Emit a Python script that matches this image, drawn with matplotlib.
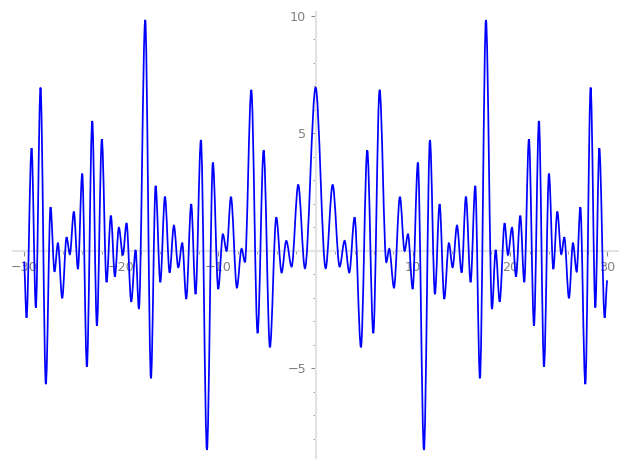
import matplotlib
matplotlib.use('Agg')
import matplotlib.pyplot as plt
from matplotlib.path import Path
from matplotlib.patches import PathPatch
from matplotlib.ticker import FixedLocator, FixedFormatter, MultipleLocator

# Turning points of the curve (x, y), left to right
x_pts = [-30.0, -29.74, -29.22, -28.78, -28.30, -27.75, -27.27, -26.86, -26.51, -26.07,
         -25.62, -25.28, -24.87, -24.45, -24.01, -23.53, -22.98, -22.50, -21.99, -21.51,
         -21.06, -20.65, -20.24, -19.83, -19.45, -18.97, -18.52, -18.18, -17.53, -16.94,
         -16.46, -15.98, -15.50, -15.02, -14.58, -14.13, -13.72, -13.31, -12.80, -12.35,
         -11.80, -11.18, -10.57, -10.02, -9.54, -9.16, -8.71, -8.10, -7.62, -7.27,
         -6.62, -5.97, -5.35, -4.70, -4.05, -3.50, -3.02, -2.47, -1.79, -1.10,
         0.00,
         1.03, 1.75, 2.47, 2.98, 3.46, 4.01, 4.66, 5.31, 5.93, 6.58,
         7.27, 7.57, 8.06, 8.67, 9.15, 9.50, 9.98, 10.52, 11.14, 11.76,
         12.27, 12.75, 13.23, 13.71, 14.09, 14.54, 15.02, 15.46, 15.94, 16.42,
         16.90, 17.52, 18.14, 18.52, 18.93, 19.44, 19.78, 20.20, 20.61, 21.05,
         21.46, 21.94, 22.46, 22.97, 23.49, 24.00, 24.45, 24.86, 25.27, 25.58,
         26.06, 26.47, 26.85, 27.23, 27.74, 28.29, 28.77, 29.18, 29.73, 30.0]
y_pts = [-0.45, -2.84, 4.37, -2.41, 6.95, -5.67, 1.86, -0.88, 0.33, -2.01,
         0.58, -0.14, 1.67, -0.77, 3.29, -4.92, 5.53, -3.18, 4.75, -1.33,
         1.50, -1.09, 0.99, -0.17, 1.18, -2.16, 0.04, -2.47, 9.83, -5.42,
         2.77, -1.33, 2.31, -0.92, 1.08, -0.70, 0.33, -2.04, 1.99, -1.84,
         4.72, -8.47, 3.76, -1.62, 0.71, 0.00, 2.30, -1.56, 0.09, -0.48,
         6.85, -3.50, 4.28, -4.10, 1.43, -0.92, 0.43, -0.67, 2.81, -0.74,
         6.95,
         -0.74, 2.81, -0.67, 0.43, -0.92, 1.43, -4.10, 4.28, -3.50, 6.85,
         -0.48, 0.09, -1.56, 2.30, 0.00, 0.71, -1.62, 3.76, -8.47, 4.72,
         -1.84, 1.99, -2.04, 0.33, -0.70, 1.08, -0.92, 2.31, -1.33, 2.77,
         -5.42, 9.83, -2.47, 0.04, -2.16, 1.18, -0.17, 0.99, -1.09, 1.50,
         -1.33, 4.75, -3.18, 5.53, -4.92, 3.29, -0.77, 1.67, -0.14, 0.58,
         -2.01, 0.33, -0.88, 1.86, -5.67, 6.95, -2.41, 4.37, -2.84, -1.25]

x_ticks = [-30, -20, -10, 0, 10, 20, 30]
x_labels = ['\u221230', '\u221220', '\u221210', '', '10', '20', '30']
y_ticks = [-5, 0, 5, 10]
y_labels = ['\u22125', '', '5', '10']

fig = plt.figure(figsize=(6.27, 4.69), dpi=100)
ax = fig.add_axes([0.0212, 0.0235, 0.9644, 0.9516])

# smooth curve through the turning points (flat tangent at each one)
verts = [(x_pts[0], y_pts[0])]
codes = [Path.MOVETO]
for i in range(len(x_pts) - 1):
    d = x_pts[i + 1] - x_pts[i]
    verts += [(x_pts[i] + d / 3, y_pts[i]), (x_pts[i + 1] - d / 3, y_pts[i + 1]),
              (x_pts[i + 1], y_pts[i + 1])]
    codes += [Path.CURVE4] * 3
ax.add_patch(PathPatch(Path(verts, codes), fill=False, edgecolor='#0000ff',
                       linewidth=1.25, zorder=3))

ax.set_xlim(-31.1, 31.1)
ax.set_ylim(-8.81, 10.18)

for side in ['top', 'right']:
    ax.spines[side].set_visible(False)
for side in ['left', 'bottom']:
    ax.spines[side].set_position('zero')
    ax.spines[side].set_color('#e3e3e3')
    ax.spines[side].set_linewidth(1.5)

ax.xaxis.set_major_locator(FixedLocator(x_ticks))
ax.xaxis.set_major_formatter(FixedFormatter(x_labels))
ax.yaxis.set_major_locator(FixedLocator(y_ticks))
ax.yaxis.set_major_formatter(FixedFormatter(y_labels))
ax.xaxis.set_minor_locator(MultipleLocator(2))
ax.yaxis.set_minor_locator(MultipleLocator(1))
ax.tick_params(which='both', colors='#8a8a8a', labelcolor='#808080', labelsize=9.2)

fig.savefig('out.png', dpi=100)
